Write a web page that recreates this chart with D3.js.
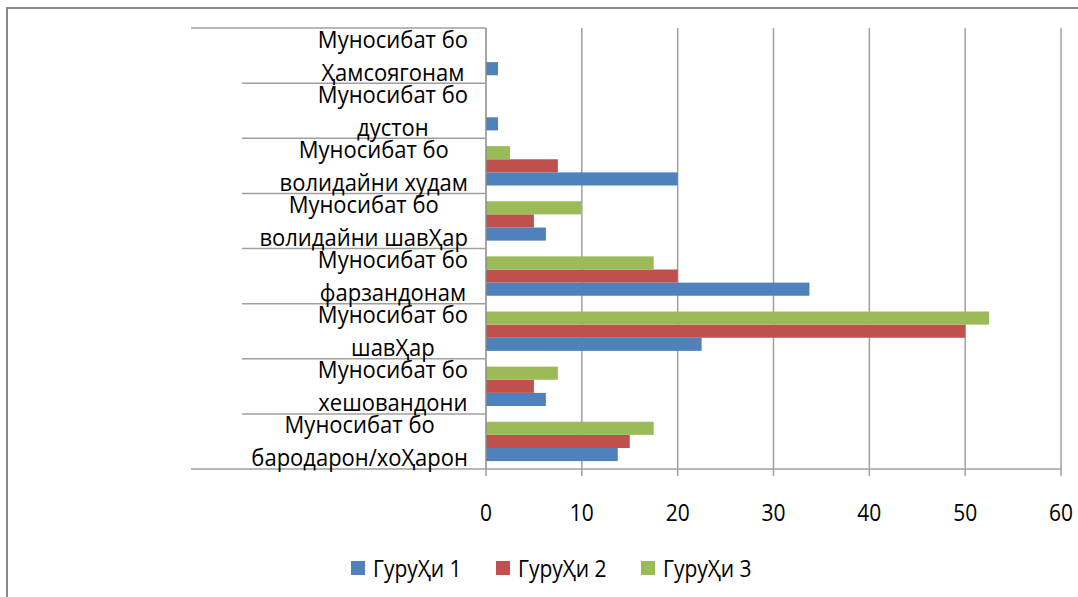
<!DOCTYPE html>
<html>
<head>
<meta charset="utf-8">
<script src="https://cdn.jsdelivr.net/npm/d3@7"></script>
<style>
  html, body { margin: 0; padding: 0; background: #fff; }
  svg { display: block; }
  text { font-family: "Open Sans", "DejaVu Sans", sans-serif; fill: #000; }
</style>
</head>
<body>
<svg id="chart" width="1078" height="597"></svg>
<script>
// ---- data ----
const categories = [
  "бародарон/хоҲарон",
  "хешовандони",
  "шавҲар",
  "фарзандонам",
  "волидайни шавҲар",
  "волидайни худам",
  "дустон",
  "Ҳамсоягонам"
];
const labelPrefix = "Муносибат бо";
const seriesNames = ["ГуруҲи 1", "ГуруҲи 2", "ГуруҲи 3"];
const group1 = [13.75, 6.25, 22.5, 33.75, 6.25, 20, 1.25, 1.25];
const group2 = [15, 5, 50, 20, 5, 7.5, 0, 0];
const group3 = [17.5, 7.5, 52.5, 17.5, 10, 2.5, 0, 0];
const xTicks = [0, 10, 20, 30, 40, 50, 60];
const colors = ["#4F81BD", "#C0504D", "#9BBB59"];

const seriesValues = [group1, group2, group3];

// ---- layout ----
const svg = d3.select("#chart");
const plot = { left: 486, right: 1061, top: 28, bottom: 469 };

const x = d3.scaleLinear().domain([0, 60]).range([plot.left, plot.right]);
const y = d3.scaleBand().domain(categories).range([plot.bottom, plot.top]).paddingInner(0).paddingOuter(0);
const ySub = d3.scaleBand().domain([2, 1, 0]).range([0, y.bandwidth()]).paddingInner(0).paddingOuter(0.6);

// outer border
svg.append("path")
  .attr("d", "M7,597 L7,8 L1078,8")
  .attr("fill", "none").attr("stroke", "#8a8a8a").attr("stroke-width", 2);

// gridlines
svg.append("g").selectAll("line").data(xTicks.filter(t => t > 0)).join("line")
  .attr("x1", d => x(d)).attr("x2", d => x(d))
  .attr("y1", plot.top).attr("y2", plot.bottom)
  .attr("stroke", "#a0a0a0").attr("stroke-width", 1.5);

// bars
const groups = svg.append("g").selectAll("g").data(categories).join("g")
  .attr("transform", d => `translate(0,${y(d)})`);
groups.each(function(cat, ci) {
  d3.select(this).selectAll("rect").data([0, 1, 2]).join("rect")
    .attr("x", x(0))
    .attr("y", s => ySub(s))
    .attr("width", s => x(seriesValues[s][ci]) - x(0))
    .attr("height", ySub.bandwidth())
    .attr("fill", s => colors[s]);
});

// x axis line + ticks
svg.append("line")
  .attr("x1", plot.left).attr("x2", plot.right)
  .attr("y1", plot.bottom).attr("y2", plot.bottom)
  .attr("stroke", "#a0a0a0").attr("stroke-width", 1.5);
svg.append("g").selectAll("line").data(xTicks).join("line")
  .attr("x1", d => x(d)).attr("x2", d => x(d))
  .attr("y1", plot.bottom).attr("y2", plot.bottom + 7)
  .attr("stroke", "#a0a0a0").attr("stroke-width", 1.5);
svg.append("g").selectAll("text").data(xTicks).join("text")
  .attr("transform", d => `translate(${x(d)},521) scale(1,1.15)`)
  .attr("text-anchor", "middle")
  .attr("font-size", 21)
  .text(d => d);

// category axis line
svg.append("line")
  .attr("x1", plot.left).attr("x2", plot.left)
  .attr("y1", plot.top).attr("y2", plot.bottom)
  .attr("stroke", "#8a8a8a").attr("stroke-width", 1.5);

// category boundary tick lines
const bounds = categories.map(c => y(c)).concat([plot.bottom]);
svg.append("g").selectAll("line").data(bounds).join("line")
  .attr("x1", (d, i) => (Math.abs(d - plot.top) < 1 || Math.abs(d - plot.bottom) < 1) ? 191 : 242)
  .attr("x2", plot.left)
  .attr("y1", d => d).attr("y2", d => d)
  .attr("stroke", "#a0a0a0").attr("stroke-width", 1.5);

// category labels (two lines, centered block, right-aligned)
const labelRight = 468;
const lab = svg.append("g");
categories.forEach(cat => {
  const cy = y(cat) + y.bandwidth() / 2;
  const g = lab.append("g");
  const t1 = g.append("text").attr("font-size", 22).attr("text-anchor", "middle").text(labelPrefix);
  const t2 = g.append("text").attr("font-size", 22).attr("text-anchor", "middle").text(cat);
  const w = Math.max(t1.node().getComputedTextLength(), t2.node().getComputedTextLength());
  const cx = labelRight - w / 2;
  t1.attr("transform", `translate(${cx},${cy - 8}) scale(1,1.1)`);
  t2.attr("transform", `translate(${cx},${cy + 25}) scale(1,1.1)`);
});

// legend
const legX = [351, 496, 641];
const leg = svg.append("g").selectAll("g").data(seriesNames).join("g")
  .attr("transform", (d, i) => `translate(${legX[i]},0)`);
leg.append("rect").attr("x", 0).attr("y", 561).attr("width", 14).attr("height", 14)
  .attr("fill", (d, i) => colors[i]);
leg.append("text").attr("transform", "translate(22,577) scale(1,1.15)")
  .attr("font-size", 21).text(d => d);
</script>
</body>
</html>
